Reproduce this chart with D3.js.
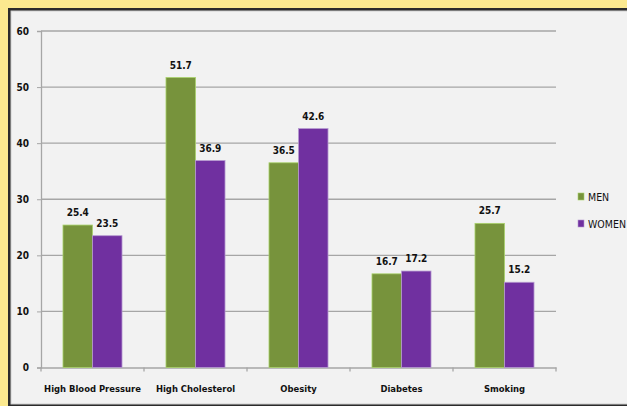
<!DOCTYPE html>
<html>
<head>
<meta charset="utf-8">
<script src="https://cdn.jsdelivr.net/npm/d3@7"></script>
<style>
  html, body { margin: 0; padding: 0; background: #fbe98f; overflow: hidden; }
  svg { display: block; }
  text { font-family: "Liberation Sans Narrow", "DejaVu Sans Condensed", "Open Sans", sans-serif; }
</style>
</head>
<body>
<div id="chart"></div>
<script>
// Datos del gráfico
const categories = ['High Blood Pressure', 'High Cholesterol', 'Obesity', 'Diabetes', 'Smoking'];
const series = ['MEN', 'WOMEN'];
const menValues = [25.4, 51.7, 36.5, 16.7, 25.7];
const womenValues = [23.5, 36.9, 42.6, 17.2, 15.2];
const yTicks = [0, 10, 20, 30, 40, 50, 60];

const colors = { MEN: '#77933c', WOMEN: '#7030a0' };
const strokes = { MEN: '#a9d26a', WOMEN: '#b69ad0' };

const width = 627, height = 406;
const svg = d3.select('#chart').append('svg')
    .attr('width', width)
    .attr('height', height);

// Fondo amarillo + marco oscuro
svg.append('rect').attr('width', width).attr('height', height).attr('fill', '#fbe98f');
svg.append('rect').attr('x', 8).attr('y', 8).attr('width', width).attr('height', 400)
    .attr('fill', '#2b2b2b');
svg.append('rect').attr('x', 11).attr('y', 11).attr('width', width).attr('height', 393)
    .attr('fill', '#f2f2f2').attr('stroke', '#cfcfcf').attr('stroke-width', 1);

const plot = { left: 41, right: 556, top: 31, bottom: 367.5 };

const x = d3.scaleBand().domain(categories).range([plot.left, plot.right]).paddingInner(0).paddingOuter(0);
const inner = d3.scaleBand().domain(series).range([0, x.bandwidth()]).paddingInner(0).paddingOuter(0.745);
const y = d3.scaleLinear().domain([0, 60]).range([plot.bottom, plot.top]);

// Líneas de cuadrícula
svg.append('g')
    .selectAll('line')
    .data(yTicks.filter(t => t > 0))
    .enter()
    .append('line')
    .attr('x1', plot.left).attr('x2', plot.right)
    .attr('y1', d => y(d)).attr('y2', d => y(d))
    .attr('stroke', '#a6a6a6').attr('stroke-width', 1.3);

// Eje Y
const yAxis = svg.append('g')
    .attr('transform', `translate(${plot.left},0)`)
    .call(d3.axisLeft(y).tickValues(yTicks).tickSize(4).tickPadding(8));
yAxis.select('.domain').attr('stroke', '#a6a6a6').attr('stroke-width', 1.3);
yAxis.selectAll('.tick line').attr('stroke', '#a6a6a6');
yAxis.selectAll('.tick text').attr('font-size', 10).attr('font-weight', 'bold').attr('fill', '#111');

// Eje X
const xAxis = svg.append('g')
    .attr('transform', `translate(0,${plot.bottom})`)
    .call(d3.axisBottom(x).tickSize(0).tickPadding(18).tickSizeOuter(0));
xAxis.select('.domain').attr('stroke', '#a6a6a6').attr('stroke-width', 1.3);
xAxis.selectAll('.tick text').attr('font-size', 9.4).attr('font-weight', 'bold').attr('fill', '#111');
// Marcas entre categorías
svg.append('g')
    .selectAll('line')
    .data(categories.map((c, i) => i).concat([categories.length]))
    .enter()
    .append('line')
    .attr('x1', i => plot.left + i * x.step()).attr('x2', i => plot.left + i * x.step())
    .attr('y1', plot.bottom).attr('y2', plot.bottom + 4)
    .attr('stroke', '#a6a6a6').attr('stroke-width', 1.3);

// Barras
const rows = categories.map((c, i) => ({ cat: c, MEN: menValues[i], WOMEN: womenValues[i] }));
const groups = svg.append('g').selectAll('g')
    .data(rows)
    .enter()
    .append('g')
    .attr('transform', d => `translate(${x(d.cat)},0)`);

groups.selectAll('rect')
    .data(d => series.map(s => ({ s, v: d[s] })))
    .enter()
    .append('rect')
    .attr('x', d => inner(d.s))
    .attr('y', d => y(d.v))
    .attr('width', inner.bandwidth())
    .attr('height', d => plot.bottom - y(d.v))
    .attr('fill', d => colors[d.s])
    .attr('stroke', d => strokes[d.s])
    .attr('stroke-width', 0.8);

// Etiquetas de valores
groups.selectAll('text.val')
    .data(d => series.map(s => ({ s, v: d[s] })))
    .enter()
    .append('text')
    .attr('class', 'val')
    .attr('x', d => inner(d.s) + inner.bandwidth() / 2)
    .attr('y', d => y(d.v) - 9)
    .attr('text-anchor', 'middle')
    .attr('font-size', 10)
    .attr('font-weight', 'bold')
    .attr('fill', '#111')
    .text(d => d.v.toFixed(1));

// Leyenda
const legend = svg.append('g').attr('transform', 'translate(578,193)');
series.forEach((s, i) => {
    legend.append('rect')
        .attr('x', 0).attr('y', i * 27)
        .attr('width', 6).attr('height', 7)
        .attr('fill', colors[s]).attr('stroke', strokes[s]).attr('stroke-width', 0.6);
    legend.append('text')
        .attr('x', 10).attr('y', i * 27 + 7.5)
        .attr('font-size', 10.5)
        .attr('fill', '#111')
        .text(s);
});
</script>
</body>
</html>
